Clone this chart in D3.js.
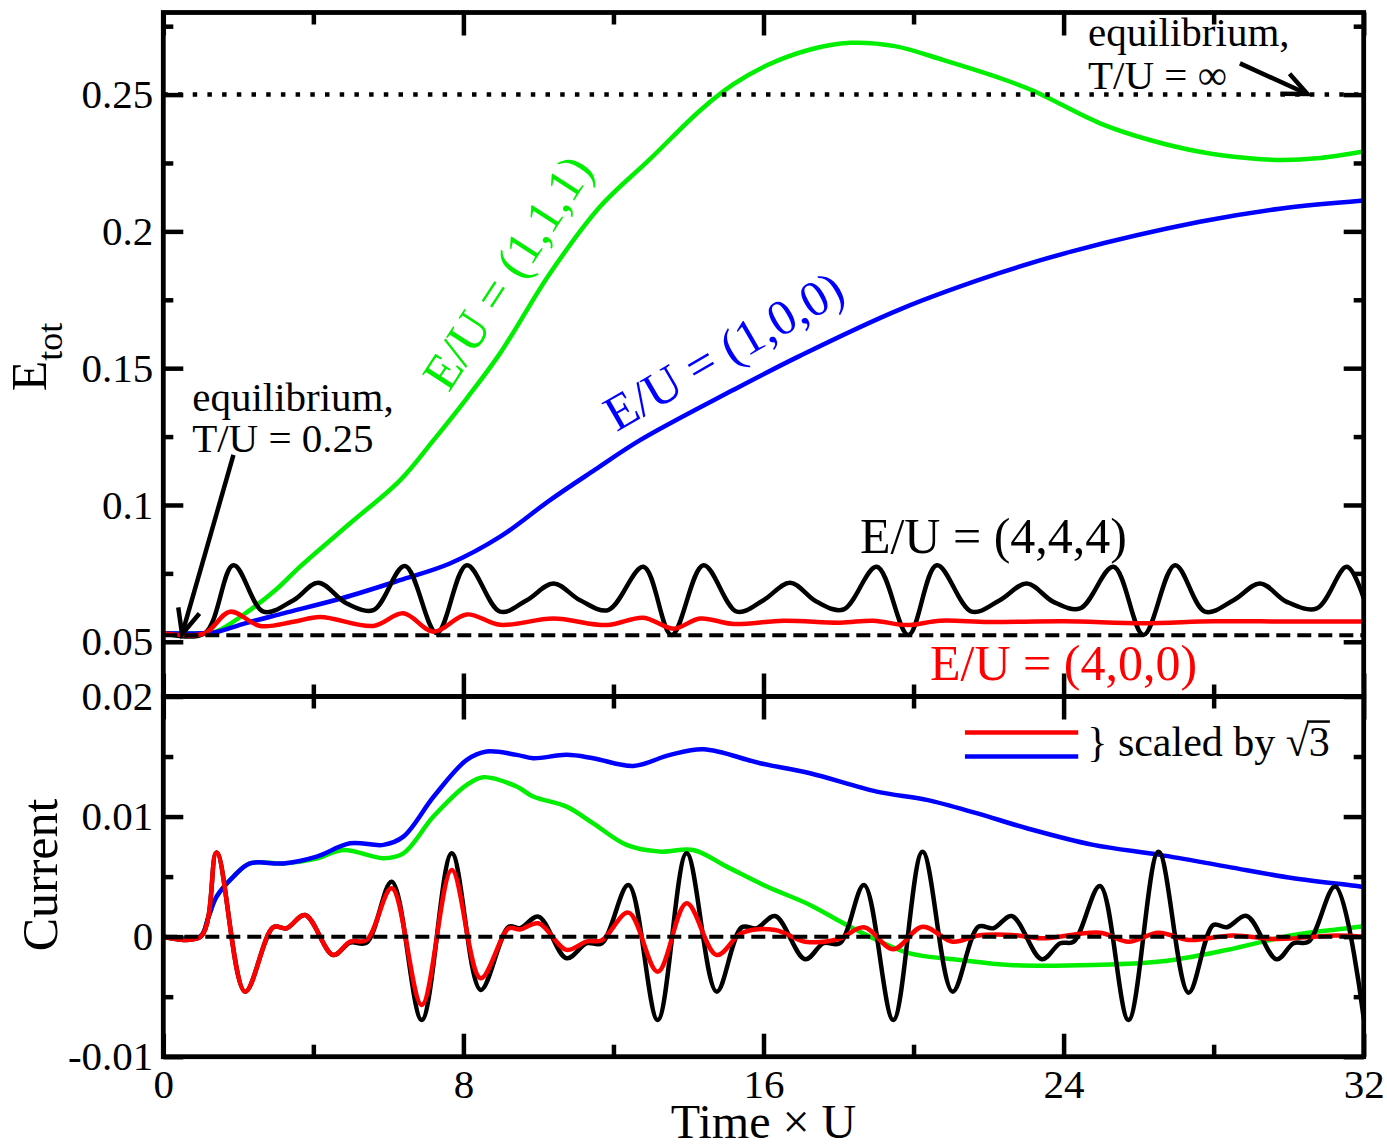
<!DOCTYPE html>
<html>
<head>
<meta charset="utf-8">
<script src="https://cdn.jsdelivr.net/npm/d3@7"></script>
<style>
  html, body { margin: 0; padding: 0; background: #fff; }
  svg { display: block; }
  text { font-family: "Liberation Serif", "Times New Roman", serif; fill: #000; }
</style>
</head>
<body>
<svg id="chart" width="1387" height="1148"></svg>
<script>
// ---------- axis ticks ----------
const timeTicks = [0, 8, 16, 24, 32];
const timeTickLabels = ["0", "8", "16", "24", "32"];
const timeMinorTicks = [4, 12, 20, 28];
const energyTicks = [0.05, 0.1, 0.15, 0.2, 0.25];
const energyTickLabels = ["0.05", "0.1", "0.15", "0.2", "0.25"];
const energyMinorTicks = [0.075, 0.125, 0.175, 0.225, 0.275];
const currentTicks = [-0.01, 0, 0.01, 0.02];
const currentTickLabels = ["-0.01", "0", "0.01", "0.02"];
const currentMinorTicks = [-0.005, 0.005, 0.015];

// ---------- reference levels ----------
const eqEnergyLowT = 0.0524;   // equilibrium, T/U = 0.25
const eqEnergyInf = 0.25;      // equilibrium, T/U = infinity
const zeroCurrent = 0;

// ---------- total energy, E/U = (1,1,1) ----------
const energy111T = [0, 1.0, 1.4, 2.31, 3.0, 3.64, 4.98, 6.31, 7.21, 8.09, 8.98, 10.31, 11.64, 12.98,
  14.31, 15.2, 16.09, 17.2, 18.31, 19.5, 20.8, 22.31, 23.19, 24.97, 26.3, 27.63, 28.96, 29.85, 30.75, 32];
const energy111 = [0.0531, 0.0531, 0.0537, 0.0616, 0.069, 0.0774, 0.0933, 0.109, 0.1238, 0.139, 0.1555,
  0.1847, 0.209, 0.2265, 0.2442, 0.2538, 0.2607, 0.2663, 0.2689, 0.2677, 0.2626, 0.256, 0.2514, 0.2395,
  0.2334, 0.2291, 0.2267, 0.2261, 0.2267, 0.2292];

// ---------- total energy, E/U = (1,0,0) ----------
const energy100T = [0, 1.0, 1.4, 2.2, 3.2, 4.76, 6.31, 7.64, 8.98, 10.31, 11.5, 12.71, 15.19, 16.97,
  19.64, 22.3, 24.25, 27.63, 29.76, 32];
const energy100 = [0.0531, 0.0531, 0.0535, 0.0568, 0.0604, 0.0659, 0.0725, 0.0786, 0.0884, 0.1018, 0.1128,
  0.1237, 0.142, 0.1545, 0.1715, 0.1848, 0.1928, 0.2035, 0.2083, 0.2113];

// ---------- total energy, E/U = (4,4,4) ----------
const energy444T = [0, 1.1, 1.87, 2.67, 3.47, 4.13, 4.89, 5.6, 6.44, 7.29, 8.09, 8.98, 9.69, 10.4, 11.11,
  11.86, 12.8, 13.55, 14.4, 15.29, 16.0, 16.71, 17.42, 18.13, 19.02, 19.86, 20.62, 21.55, 22.3, 23.02, 23.73,
  24.44, 25.33, 26.13, 26.97, 27.77, 28.53, 29.24, 29.95, 30.75, 31.55, 32];
const energy444 = [0.0531, 0.0531, 0.078, 0.061, 0.0652, 0.0716, 0.064, 0.0616, 0.0777, 0.0532, 0.078, 0.061,
  0.0652, 0.0713, 0.0652, 0.0616, 0.0774, 0.0525, 0.078, 0.061, 0.0652, 0.0716, 0.0646, 0.0618, 0.0774,
  0.0525, 0.078, 0.061, 0.0652, 0.0713, 0.0646, 0.0622, 0.0774, 0.0525, 0.078, 0.061, 0.0652, 0.0713, 0.0646,
  0.0622, 0.0774, 0.066];

// ---------- total energy, E/U = (4,0,0) ----------
const energy400T = [0, 1.1, 1.78, 2.58, 3.47, 4.18, 5.6, 6.4, 7.2, 8.09, 8.98, 10.4, 11.82, 12.8, 13.6,
  14.31, 15.2, 16.53, 18.04, 18.93, 19.82, 20.71, 22, 24, 26.13, 28, 30, 32];
const energy400 = [0.0531, 0.0531, 0.061, 0.0558, 0.0573, 0.0591, 0.0558, 0.0604, 0.0537, 0.06, 0.0562, 0.0585,
  0.0561, 0.0588, 0.0548, 0.0585, 0.0565, 0.0577, 0.057, 0.0577, 0.0561, 0.0577, 0.0572, 0.0575, 0.0568,
  0.0575, 0.0574, 0.0574];

// ---------- current, E/U = (1,1,1) ----------
const current111T = [0, 0.98, 1.2, 1.42, 1.87, 2.31, 3.2, 4.09, 4.8, 5.87, 6.4, 7.2, 8.09, 8.53, 9.42, 9.86,
  10.75, 11.46, 12.35, 13.24, 14.13, 15.02, 16.09, 17.24, 18.13, 19.02, 19.9, 21.24, 22.57, 24.79, 26.57,
  28.35, 30.13, 31.9, 32];
const current111 = [0, 0, 0.0016, 0.00333, 0.005, 0.0061, 0.0061, 0.0065, 0.00722, 0.00653, 0.00694, 0.01,
  0.01264, 0.01328, 0.0125, 0.01167, 0.01083, 0.00944, 0.00764, 0.00708, 0.00722, 0.00583, 0.00417, 0.00264,
  0.00111, -0.00028, -0.00139, -0.00194, -0.00236, -0.00236, -0.00208, -0.00111, 0.00014, 0.00083, 0.0009];

// ---------- current, E/U = (1,0,0), scaled by sqrt(3) ----------
const current100T = [0, 0.98, 1.2, 1.42, 1.87, 2.31, 3.2, 4.09, 4.98, 5.87, 6.4, 7.21, 8.09, 8.62, 9.42,
  9.86, 10.75, 11.46, 12.53, 13.51, 14.4, 15.91, 17.24, 19.02, 20.35, 21.68, 23.02, 24.79, 26.57, 28.35,
  30.13, 31.9, 32];
const current100 = [0, 0, 0.0016, 0.00333, 0.005, 0.0061, 0.0061, 0.00667, 0.00778, 0.00764, 0.00833,
  0.01167, 0.01472, 0.01542, 0.01514, 0.01486, 0.01514, 0.01486, 0.01422, 0.01514, 0.01561, 0.01444, 0.01361,
  0.01208, 0.01139, 0.01028, 0.00903, 0.00764, 0.00681, 0.00583, 0.00486, 0.00417, 0.0041];

// ---------- current, E/U = (4,4,4) ----------
const current444T = [0, 1.0, 1.42, 2.18, 2.93, 3.29, 3.78, 4.53, 4.98, 5.42, 6.09, 6.89, 7.69, 8.46, 9.21,
  9.51, 10.0, 10.75, 11.29, 11.69, 12.4, 13.18, 13.95, 14.75, 15.42, 15.82, 16.31, 17.11, 17.6, 18.04, 18.68,
  19.46, 20.24, 21.04, 21.73, 22.13, 22.62, 23.42, 23.91, 24.27, 24.97, 25.73, 26.53, 27.33, 27.99, 28.35,
  28.88, 29.68, 30.13, 30.53, 31.24, 32];
const current444 = [0, 0, 0.007, -0.00458, 0.00078, 0.0007, 0.0018, -0.00153, -0.0005, -0.0005, 0.00458,
  -0.00694, 0.00694, -0.00444, 0.00083, 0.0007, 0.00167, -0.0018, -0.00055, -0.00055, 0.0043, -0.00694,
  0.00694, -0.00458, 0.00078, 0.0007, 0.00172, -0.00189, -0.00055, -0.00055, 0.0043, -0.00694, 0.00708,
  -0.00458, 0.00083, 0.0007, 0.00172, -0.00189, -0.00055, -0.00042, 0.00422, -0.00694, 0.00708, -0.00467,
  0.00097, 0.00078, 0.00172, -0.00189, -0.00055, -0.00042, 0.00417, -0.0068];

// ---------- current, E/U = (4,0,0), scaled by sqrt(3) ----------
const current400T = [0, 1.0, 1.42, 2.18, 2.93, 3.29, 3.78, 4.53, 4.98, 5.42, 6.09, 6.89, 7.69, 8.46, 9.21,
  9.51, 10.0, 10.75, 11.29, 11.69, 12.4, 13.18, 13.95, 14.75, 15.42, 16.31, 17.11, 18.0, 18.68, 19.46, 20.24,
  21.04, 21.73, 22.62, 23.42, 24.97, 25.73, 26.53, 27.33, 28.5, 29.68, 31.24, 32];
const current400 = [0, 0, 0.007, -0.00458, 0.00078, 0.0007, 0.0018, -0.00153, -0.00042, -0.00028, 0.00403,
  -0.00569, 0.00556, -0.00347, 0.0007, 0.0006, 0.00111, -0.0011, -0.0004, -0.0003, 0.002, -0.00292, 0.00278,
  -0.00153, 0.0003, 0.00056, -0.00042, -0.0002, 0.00078, -0.00105, 0.00083, -0.00042, 0.0001, 0.00014,
  -0.00014, 0.00033, -0.00042, 0.00033, -0.00028, 0.0001, -0.0002, 0.0001, 0.0];

// ---------- colours ----------
const GREEN = "#00ee00", BLUE = "#0000ff", RED = "#ff0000", BLACK = "#000000";

// ---------- scales ----------
const svg = d3.select("#chart");
const x = d3.scaleLinear().domain([0, 32]).range([163.3, 1363.7]);
const yE = d3.scaleLinear().domain([0.03, 0.28]).range([696.5, 12.5]);
const yC = d3.scaleLinear().domain([-0.01, 0.02]).range([1056.7, 696.5]);

const defs = svg.append("defs");
function panelClip(id, y) {
  defs.append("clipPath").attr("id", id).append("rect")
    .attr("x", x(0)).attr("y", y.range()[1])
    .attr("width", x(32) - x(0)).attr("height", y.range()[0] - y.range()[1]);
}
panelClip("clipE", yE);
panelClip("clipC", yC);

function drawSeries(g, y, ts, vs, color) {
  const line = d3.line()
    .x(d => x(d[0])).y(d => y(d[1]))
    .curve(d3.curveCatmullRom.alpha(0.5));
  g.append("path").datum(d3.zip(ts, vs))
    .attr("d", line)
    .attr("fill", "none").attr("stroke", color)
    .attr("stroke-width", 4.5).attr("stroke-linejoin", "round").attr("stroke-linecap", "round");
}

function drawLevel(g, y, v, dash, width) {
  g.append("path").datum([[0, v], [32, v]])
    .attr("d", d3.line().x(d => x(d[0])).y(d => y(d[1])))
    .attr("stroke", BLACK).attr("stroke-width", width)
    .attr("stroke-dasharray", dash).attr("fill", "none");
}

// ---------- upper panel: total energy ----------
const gE = svg.append("g").attr("clip-path", "url(#clipE)");
drawSeries(gE, yE, energy111T, energy111, GREEN);
drawSeries(gE, yE, energy100T, energy100, BLUE);
drawSeries(gE, yE, energy444T, energy444, BLACK);
drawSeries(gE, yE, energy400T, energy400, RED);
drawLevel(gE, yE, eqEnergyLowT, "14,7", 4);
drawLevel(gE, yE, eqEnergyInf, "4.5,10.2", 4.5);

// ---------- lower panel: current ----------
const gC = svg.append("g").attr("clip-path", "url(#clipC)");
drawSeries(gC, yC, current111T, current111, GREEN);
drawSeries(gC, yC, current100T, current100, BLUE);
drawSeries(gC, yC, current444T, current444, BLACK);
drawSeries(gC, yC, current400T, current400, RED);
drawLevel(gC, yC, zeroCurrent, "14,7", 4);

// ---------- frames and ticks ----------
function styleAxis(g) {
  g.select(".domain").remove();
  g.selectAll(".tick line").attr("stroke", BLACK).attr("stroke-width", 4.5);
  g.selectAll(".tick text").attr("font-size", 41)
    .attr("font-family", '"Liberation Serif","Times New Roman",serif').attr("fill", BLACK);
  g.attr("font-family", null).attr("font-size", null);
}

function panelAxes(y, majors, majorLabels, minors, showTimeLabels) {
  const top = y.range()[1], bottom = y.range()[0];
  const fmt = majorLabels ? (d => majorLabels[majors.indexOf(d)]) : (() => "");
  // left
  svg.append("g").attr("transform", `translate(${x(0)},0)`)
    .call(d3.axisLeft(y).tickValues(majors).tickSize(-20).tickPadding(10).tickFormat(fmt)).call(styleAxis);
  svg.append("g").attr("transform", `translate(${x(0)},0)`)
    .call(d3.axisLeft(y).tickValues(minors).tickSize(-10).tickFormat("")).call(styleAxis);
  // right
  svg.append("g").attr("transform", `translate(${x(32)},0)`)
    .call(d3.axisRight(y).tickValues(majors).tickSize(-20).tickFormat("")).call(styleAxis);
  svg.append("g").attr("transform", `translate(${x(32)},0)`)
    .call(d3.axisRight(y).tickValues(minors).tickSize(-10).tickFormat("")).call(styleAxis);
  // top
  svg.append("g").attr("transform", `translate(0,${top})`)
    .call(d3.axisTop(x).tickValues(timeTicks).tickSize(-23).tickFormat("")).call(styleAxis);
  svg.append("g").attr("transform", `translate(0,${top})`)
    .call(d3.axisTop(x).tickValues(timeMinorTicks).tickSize(-12).tickFormat("")).call(styleAxis);
  // bottom
  svg.append("g").attr("transform", `translate(0,${bottom})`)
    .call(d3.axisBottom(x).tickValues(timeTicks).tickSize(-23).tickPadding(12)
      .tickFormat(showTimeLabels ? (d => timeTickLabels[timeTicks.indexOf(d)]) : ""))
    .call(styleAxis);
  svg.append("g").attr("transform", `translate(0,${bottom})`)
    .call(d3.axisBottom(x).tickValues(timeMinorTicks).tickSize(-12).tickFormat("")).call(styleAxis);
  // frame
  svg.append("rect")
    .attr("x", x(0)).attr("y", top)
    .attr("width", x(32) - x(0)).attr("height", bottom - top)
    .attr("fill", "none").attr("stroke", BLACK).attr("stroke-width", 4.8);
}
panelAxes(yE, energyTicks, energyTickLabels, energyMinorTicks, false);
panelAxes(yC, currentTicks, currentTickLabels, currentMinorTicks, true);

// ---------- axis titles ----------
const eTitle = svg.append("text")
  .attr("transform", "translate(46,357) rotate(-90)")
  .attr("text-anchor", "middle").attr("font-size", 50);
eTitle.append("tspan").text("E");
eTitle.append("tspan").attr("font-size", 36).attr("dy", 16).text("tot");

svg.append("text")
  .attr("transform", "translate(57,875) rotate(-90)")
  .attr("text-anchor", "middle").attr("font-size", 50).text("Current");

svg.append("text")
  .attr("x", x(16)).attr("y", 1138)
  .attr("text-anchor", "middle").attr("font-size", 48).text("Time \u00d7 U");

// ---------- curve labels ----------
function label(t, v, y, txt, color, size, rot, anchor) {
  const px = x(t), py = y(v);
  return svg.append("text")
    .attr("transform", `translate(${px},${py})` + (rot ? ` rotate(${rot})` : ""))
    .attr("text-anchor", anchor || "start")
    .attr("dy", rot ? "0.35em" : null)
    .attr("font-size", size).style("fill", color).text(txt);
}
label(9.16, 0.1852, yE, "E/U = (1,1,1)", GREEN, 50, -57, "middle");
label(14.93, 0.1565, yE, "E/U = (1,0,0)", BLUE, 50, -30, "middle");
label(18.57, 0.0825, yE, "E/U = (4,4,4)", BLACK, 50);
label(20.44, 0.036, yE, "E/U = (4,0,0)", RED, 50);

// ---------- equilibrium annotations ----------
label(0.77, 0.1343, yE, "equilibrium,", BLACK, 41);
label(0.77, 0.1195, yE, "T/U = 0.25", BLACK, 41);
label(24.65, 0.2676, yE, "equilibrium,", BLACK, 41);
label(24.65, 0.2519, yE, "T/U = \u221e", BLACK, 41);

function arrow(t0, v0, t1, v1) {
  const x0 = x(t0), y0 = yE(v0), x1 = x(t1), y1 = yE(v1);
  const ang = Math.atan2(y1 - y0, x1 - x0);
  const head = 27, spread = 0.42;
  const g = svg.append("g").attr("stroke", BLACK).attr("stroke-width", 4.5)
    .attr("fill", "none").attr("stroke-linecap", "butt");
  g.append("line").attr("x1", x0).attr("y1", y0).attr("x2", x1).attr("y2", y1);
  g.append("path").attr("d",
    `M${x1 - head * Math.cos(ang - spread)},${y1 - head * Math.sin(ang - spread)}` +
    `L${x1},${y1}` +
    `L${x1 - head * Math.cos(ang + spread)},${y1 - head * Math.sin(ang + spread)}`)
    .attr("stroke-linejoin", "miter");
}
arrow(1.87, 0.1183, 0.5, 0.0528);
arrow(28.7, 0.2614, 30.5, 0.2502);

// ---------- legend for the scaled curves ----------
const legendT = [21.37, 24.39];
svg.append("path").datum([[legendT[0], 0.017], [legendT[1], 0.017]])
  .attr("d", d3.line().x(d => x(d[0])).y(d => yC(d[1])))
  .attr("stroke", RED).attr("stroke-width", 4.5).attr("fill", "none");
svg.append("path").datum([[legendT[0], 0.015], [legendT[1], 0.015]])
  .attr("d", d3.line().x(d => x(d[0])).y(d => yC(d[1])))
  .attr("stroke", BLUE).attr("stroke-width", 4.5).attr("fill", "none");
const legendText = svg.append("text")
  .attr("x", x(24.63)).attr("y", yC(0.01508))
  .attr("font-size", 42).text("} scaled by \u221a3");
// vinculum over the radicand
{
  const node = legendText.node();
  const n = node.getNumberOfChars();
  const e = node.getEndPositionOfChar(n - 1);
  const ext = node.getExtentOfChar(n - 2);
  svg.append("line")
    .attr("x1", ext.x + ext.width - 2).attr("x2", e.x)
    .attr("y1", ext.y + 3).attr("y2", ext.y + 3)
    .attr("stroke", BLACK).attr("stroke-width", 2.5);
}
</script>
</body>
</html>
